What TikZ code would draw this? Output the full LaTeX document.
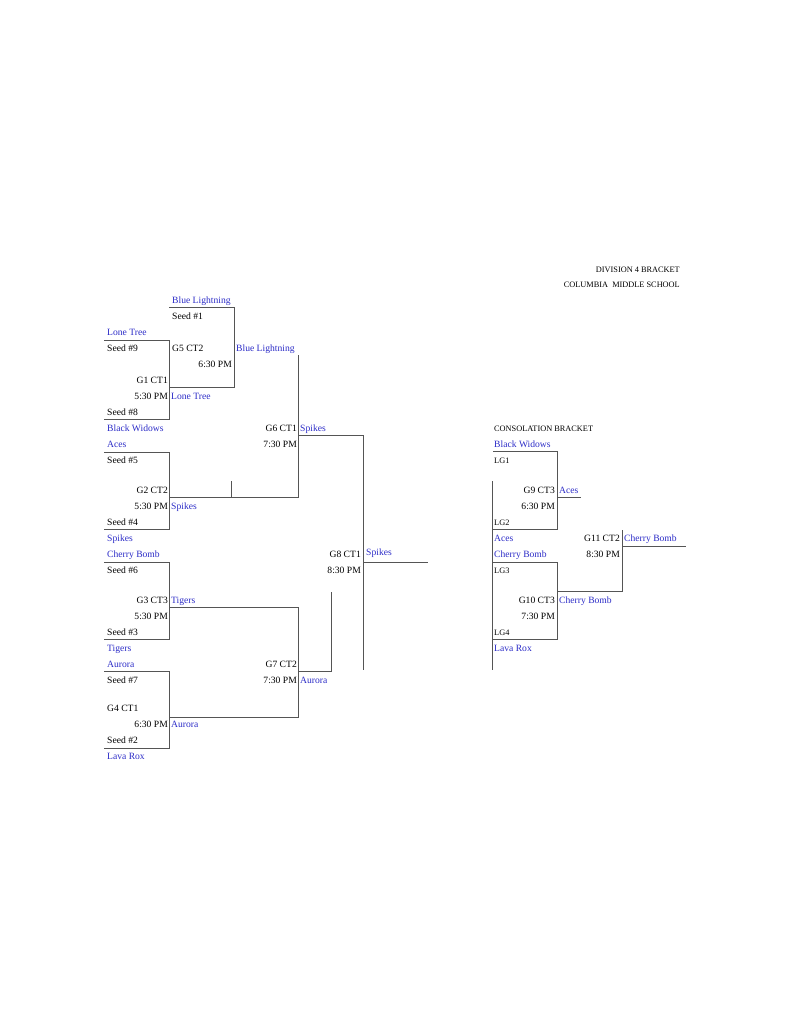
\documentclass[tikz,border=0pt]{standalone}
\usepackage{fontspec}
\setmainfont{Liberation Serif}
\definecolor{teamblue}{RGB}{45,45,200}
\definecolor{linegray}{RGB}{85,85,85}
\newcommand\fsmain{\fontsize{9.6}{10}\selectfont}
\newcommand\fssmall{\fontsize{8.3}{9}\selectfont}
\tikzset{
  lbl/.style={inner sep=0pt, anchor=base west, font=\fsmain, text=black},
  rlbl/.style={inner sep=0pt, anchor=base east, font=\fsmain, text=black},
  team/.style={lbl, text=teamblue},
  small/.style={lbl, font=\fssmall},
  rsmall/.style={rlbl, font=\fssmall},
  ln/.style={draw=linegray, line width=0.8pt}
}
\begin{document}
\begin{tikzpicture}[x=1pt,y=-1pt]
\fill[white] (0,0) rectangle (791,1024);
\useasboundingbox (0,0) rectangle (791,1024);

% ---------- header ----------
\node[rsmall] (hd1) at (680,272.5) {DIVISION 4 BRACKET};
\node[rsmall] (hd2) at (680,287.5) {COLUMBIA\ \ MIDDLE SCHOOL};

% ---------- bracket corners ----------
\coordinate (g1a) at (104,340); \coordinate (g1b) at (169,340);
\coordinate (g1c) at (169,419); \coordinate (g1d) at (104,419);
\coordinate (g5a) at (169,307); \coordinate (g5b) at (234,307);
\coordinate (g5c) at (234,387); \coordinate (g5d) at (169,387);
\coordinate (g2a) at (104,452); \coordinate (g2b) at (169,452);
\coordinate (g2c) at (169,529); \coordinate (g2d) at (104,529);
\coordinate (w2a) at (169,497); \coordinate (w2b) at (298,497);
\coordinate (tka) at (231,481); \coordinate (tkb) at (231,497);
\coordinate (w5a) at (298,355);
\coordinate (g6a) at (298,435); \coordinate (g6b) at (363,435);
\coordinate (g6c) at (363,670);
\coordinate (g3a) at (104,562); \coordinate (g3b) at (169,562);
\coordinate (g3c) at (169,639); \coordinate (g3d) at (104,639);
\coordinate (w3a) at (169,607); \coordinate (w3b) at (298,607);
\coordinate (w3c) at (298,717); \coordinate (w3d) at (169,717);
\coordinate (g4a) at (104,671); \coordinate (g4b) at (169,671);
\coordinate (g4c) at (169,748); \coordinate (g4d) at (104,748);
\coordinate (g7a) at (298,671); \coordinate (g7b) at (331,671);
\coordinate (g7c) at (331,592);
\coordinate (g8a) at (363,562); \coordinate (g8b) at (428,562);
% consolation
\coordinate (c9a) at (493,451); \coordinate (c9b) at (557,451);
\coordinate (c9c) at (557,529); \coordinate (c9d) at (493,529);
\coordinate (clva) at (492,481); \coordinate (clvb) at (492,670);
\coordinate (w9a) at (557,497); \coordinate (w9b) at (581,497);
\coordinate (c10a) at (493,562); \coordinate (c10b) at (557,562);
\coordinate (c10c) at (557,639); \coordinate (c10d) at (493,639);
\coordinate (w10a) at (557,591); \coordinate (w10b) at (622,591);
\coordinate (w10c) at (622,530);
\coordinate (c11a) at (622,546); \coordinate (c11b) at (686,546);

% ---------- lines ----------
\draw[ln] (g1a) -- (g1b) -- (g1c) -- (g1d);
\draw[ln] (g5a) -- (g5b) -- (g5c) -- (g5d);
\draw[ln] (g2a) -- (g2b) -- (g2c) -- (g2d);
\draw[ln] (w2a) -- (w2b) -- (w5a);
\draw[ln] (tka) -- (tkb);
\draw[ln] (g6a) -- (g6b) -- (g6c);
\draw[ln] (g3a) -- (g3b) -- (g3c) -- (g3d);
\draw[ln] (w3a) -- (w3b) -- (w3c) -- (w3d);
\draw[ln] (g4a) -- (g4b) -- (g4c) -- (g4d);
\draw[ln] (g7a) -- (g7b) -- (g7c);
\draw[ln] (g8a) -- (g8b);
\draw[ln] (c9a) -- (c9b) -- (c9c) -- (c9d);
\draw[ln] (clva) -- (clvb);
\draw[ln] (w9a) -- (w9b);
\draw[ln] (c10a) -- (c10b) -- (c10c) -- (c10d);
\draw[ln] (w10a) -- (w10b) -- (w10c);
\draw[ln] (c11a) -- (c11b);

% ---------- first round column ----------
\node[team] (t01) at (107,335.5) {Lone Tree};
\node[lbl]  (t02) at (107,351.5) {Seed \#9};
\node[lbl]  (t03) at (107,415.5) {Seed \#8};
\node[team] (t04) at (107,431.5) {Black Widows};
\node[team] (t05) at (107,447.5) {Aces};
\node[lbl]  (t06) at (107,463.5) {Seed \#5};
\node[lbl]  (t07) at (107,525.5) {Seed \#4};
\node[team] (t08) at (107,541.5) {Spikes};
\node[team] (t09) at (107,557.5) {Cherry Bomb};
\node[lbl]  (t10) at (107,573.5) {Seed \#6};
\node[lbl]  (t11) at (107,635.5) {Seed \#3};
\node[team] (t12) at (107,651.5) {Tigers};
\node[team] (t13) at (107,667.5) {Aurora};
\node[lbl]  (t14) at (107,683.5) {Seed \#7};
\node[lbl]  (t15) at (107,711.5) {G4 CT1};
\node[lbl]  (t16) at (107,743.5) {Seed \#2};
\node[team] (t17) at (107,759.5) {Lava Rox};

\node[rlbl] (r01) at (168,383.5) {G1 CT1};
\node[rlbl] (r02) at (168,399.5) {5:30 PM};
\node[rlbl] (r03) at (168,493.5) {G2 CT2};
\node[rlbl] (r04) at (168,509.5) {5:30 PM};
\node[rlbl] (r05) at (168,603.5) {G3 CT3};
\node[rlbl] (r06) at (168,619.5) {5:30 PM};
\node[rlbl] (r07) at (168,727.5) {6:30 PM};

\node[team] (w01) at (171,399.5) {Lone Tree};
\node[team] (w02) at (171,509.5) {Spikes};
\node[team] (w03) at (171,603.5) {Tigers};
\node[team] (w04) at (171,727.5) {Aurora};

% ---------- second round ----------
\node[team] (s01) at (172,303.5) {Blue Lightning};
\node[lbl]  (s02) at (172,319.5) {Seed \#1};
\node[lbl]  (s03) at (172,351.5) {G5 CT2};
\node[rlbl] (s04) at (232,367.5) {6:30 PM};
\node[team] (s05) at (236,351.5) {Blue Lightning};

\node[rlbl] (s06) at (297,431.5) {G6 CT1};
\node[rlbl] (s07) at (297,447.5) {7:30 PM};
\node[team] (s08) at (300,431.5) {Spikes};
\node[rlbl] (s09) at (297,667.5) {G7 CT2};
\node[rlbl] (s10) at (297,683.5) {7:30 PM};
\node[team] (s11) at (300,683.5) {Aurora};

\node[rlbl] (s12) at (361,557.5) {G8 CT1};
\node[rlbl] (s13) at (361,573.5) {8:30 PM};
\node[team] (s14) at (366,555.5) {Spikes};

% ---------- consolation ----------
\node[small] (c01) at (494,431.5) {CONSOLATION BRACKET};
\node[team]  (c02) at (494,447.5) {Black Widows};
\node[small] (c03) at (494,463.5) {LG1};
\node[small] (c04) at (494,525.5) {LG2};
\node[team]  (c05) at (494,541.5) {Aces};
\node[team]  (c06) at (494,557.5) {Cherry Bomb};
\node[small] (c07) at (494,573.5) {LG3};
\node[small] (c08) at (494,635.5) {LG4};
\node[team]  (c09) at (494,651.5) {Lava Rox};

\node[rlbl] (c10) at (555,493.5) {G9 CT3};
\node[rlbl] (c11) at (555,509.5) {6:30 PM};
\node[team] (c12) at (559,493.5) {Aces};
\node[rlbl] (c13) at (555,603.5) {G10 CT3};
\node[rlbl] (c14) at (555,619.5) {7:30 PM};
\node[team] (c15) at (559,603.5) {Cherry Bomb};
\node[rlbl] (c16) at (620,541.5) {G11 CT2};
\node[rlbl] (c17) at (620,557.5) {8:30 PM};
\node[team] (c18) at (624,541.5) {Cherry Bomb};
\end{tikzpicture}
\end{document}
